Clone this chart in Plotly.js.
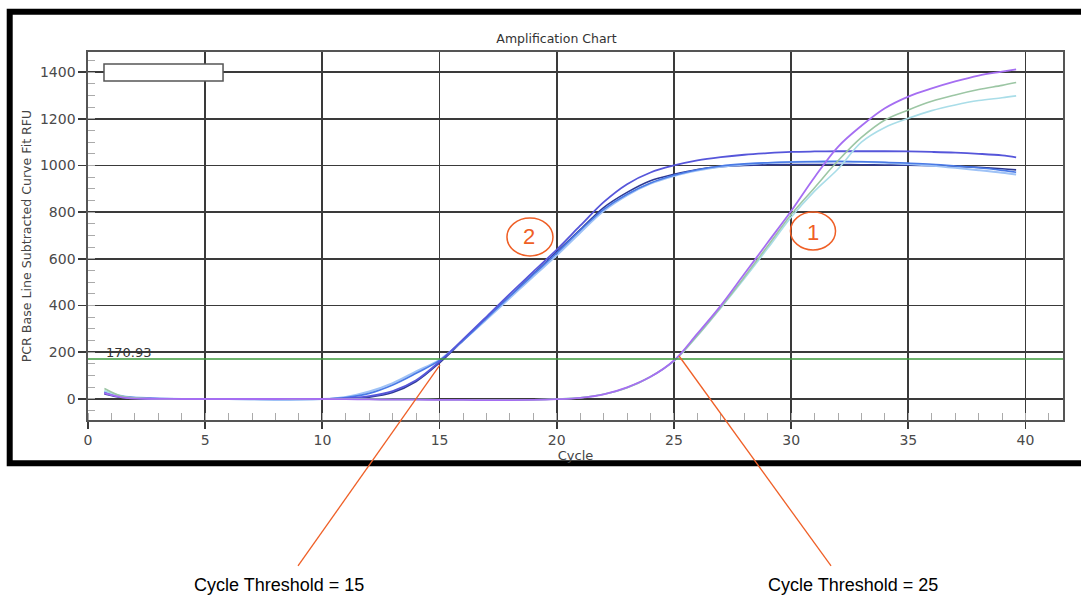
<!DOCTYPE html>
<html>
<head>
<meta charset="utf-8">
<script src="https://cdn.plot.ly/plotly-3.0.1.min.js"></script>
<style>
html,body{margin:0;padding:0;background:#fff;}
#chart{width:1081px;height:597px;}
</style>
</head>
<body>
<div id="chart"></div>
<script>
// ---- data ----
var cycles = [0.7, 1.5, 2.5, 4, 6, 8, 10, 11, 12, 13, 14, 15, 16, 17, 18, 19, 20, 21, 22, 23, 24, 25, 26, 27, 28, 29, 30, 31, 32, 33, 34, 35, 36, 37, 38, 39, 39.6];

// Sample 2 (early group)
var s2Navy   = [22, 6, 2, 0, 0, 0, 0, 1, 8, 28, 75, 155, 250, 345, 440, 535, 630, 725, 820, 885, 935, 962, 983, 995, 1000, 1003, 1004, 1004, 1004, 1003, 1002, 1001, 999, 996, 992, 986, 981];
var s2Light  = [32, 12, 4, 0, 0, -4, 0, 9, 32, 68, 118, 168, 250, 340, 432, 525, 615, 712, 805, 872, 922, 955, 978, 994, 1004, 1011, 1015, 1017, 1018, 1016, 1012, 1006, 999, 990, 980, 969, 961];
var s2Blue   = [30, 10, 3, 0, 0, 0, 0, 6, 24, 60, 110, 165, 250, 345, 440, 533, 625, 722, 812, 877, 925, 958, 982, 998, 1007, 1012, 1015, 1016, 1017, 1016, 1014, 1010, 1005, 998, 990, 979, 971];
var s2Dark   = [25, 8, 2, 0, 0, 0, 0, 2, 12, 34, 80, 160, 255, 352, 450, 545, 640, 742, 843, 920, 970, 1000, 1022, 1036, 1046, 1053, 1058, 1060, 1061, 1061, 1061, 1060, 1058, 1055, 1050, 1043, 1035];

// Sample 1 (late group)
var s1Cyan   = [35, 9, 2, 0, 0, 0, 0, 0, -1, -2, -2, -3, -3, -4, -4, -3, 0, 5, 20, 48, 95, 162, 270, 390, 515, 645, 778, 890, 985, 1100, 1163, 1202, 1235, 1259, 1278, 1290, 1298];
var s1Green  = [45, 10, 2, 0, 0, 0, 0, 0, -1, -2, -2, -3, -3, -4, -4, -3, 0, 5, 20, 48, 95, 163, 272, 393, 522, 655, 790, 905, 1020, 1120, 1195, 1238, 1275, 1302, 1325, 1343, 1355];
var s1Purple = [25, 6, 1, 0, 0, 0, 0, -1, -2, -3, -3, -4, -4, -5, -5, -4, -1, 5, 20, 50, 95, 165, 280, 400, 535, 670, 805, 950, 1080, 1170, 1245, 1295, 1330, 1360, 1385, 1402, 1412];

var thresholdValue = 170.93;
var thresholdLabel = "170.93";
var xTickVals = [0, 5, 10, 15, 20, 25, 30, 35, 40];
var yTickVals = [0, 200, 400, 600, 800, 1000, 1200, 1400];
var ctLabels = ["Cycle Threshold = 15", "Cycle Threshold = 25"];
var sampleLabels = ["2", "1"];

// ---- traces ----
function curve(y, color, width) {
  return {
    x: cycles, y: y, type: 'scatter', mode: 'lines',
    line: {color: color, width: width, shape: 'spline', smoothing: 1},
    hoverinfo: 'skip', showlegend: false
  };
}
var data = [
  curve(s2Navy,  '#2e3a94', 1.6),
  curve(s2Light, '#9ec2f6', 2.0),
  curve(s2Blue,  '#4a7ae6', 1.6),
  curve(s2Dark,  '#5656da', 1.8),
  curve(s1Cyan,  '#a9dde8', 1.6),
  curve(s1Green, '#9cc6a4', 1.6),
  curve(s1Purple,'#a56ef2', 1.8)
];

var orange = '#ef5f26';
var fontMain = 'DejaVu Sans, Verdana, sans-serif';

var layout = {
  width: 1081, height: 597,
  margin: {l: 88, r: 18, t: 52, b: 177},
  paper_bgcolor: '#ffffff', plot_bgcolor: '#ffffff',
  showlegend: false,
  title: {text: 'Amplification Chart', font: {family: fontMain, size: 12.5, color: '#333'},
          x: 0.5148, xref: 'container', xanchor: 'center', y: 0.935, yref: 'container', yanchor: 'middle'},
  xaxis: {
    range: [0, 41.6], tickvals: xTickVals, ticks: 'outside', ticklen: 7, tickcolor: '#3a3a3a', tickwidth: 1.8,
    showgrid: true, gridcolor: '#3a3a3a', gridwidth: 1.8, zeroline: false,
    showline: true, linecolor: '#555', linewidth: 1.6, mirror: true,
    tickfont: {family: fontMain, size: 14, color: '#4a4a4a'},
    minor: {dtick: 1, ticks: 'inside', ticklen: 7, tickcolor: '#aaa', tickwidth: 1, showgrid: false},
    title: {text: 'Cycle', font: {family: fontMain, size: 13, color: '#444'}, standoff: 2},
    fixedrange: true
  },
  yaxis: {
    range: [-90, 1486], tickvals: yTickVals, ticks: 'outside', ticklen: 8, tickcolor: '#3a3a3a', tickwidth: 1.8,
    showgrid: true, gridcolor: '#3a3a3a', gridwidth: 1.8, zeroline: false,
    showline: true, linecolor: '#555', linewidth: 1.6, mirror: true,
    tickfont: {family: fontMain, size: 14, color: '#4a4a4a'},
    minor: {dtick: 50, ticks: 'inside', ticklen: 7, tickcolor: '#aaa', tickwidth: 1, showgrid: false},
    title: {text: 'PCR Base Line Subtracted Curve Fit RFU', font: {family: fontMain, size: 12.6, color: '#444'}, standoff: 5},
    fixedrange: true
  },
  shapes: [
    // threshold line
    {type: 'line', xref: 'paper', yref: 'y', x0: 0, x1: 1, y0: thresholdValue, y1: thresholdValue,
     line: {color: '#3c9a3c', width: 1.5}, layer: 'above'},
    // empty legend box
    {type: 'rect', xref: 'paper', yref: 'paper', x0: 0.0164, x1: 0.1385, y0: 0.9212, y1: 0.9674,
     fillcolor: '#ffffff', line: {color: '#555', width: 1.5}, layer: 'above'},
    // outer thick frame
    {type: 'rect', xref: 'paper', yref: 'paper', x0: -0.0803, x1: 1.03, y0: -0.1177, y1: 1.1095,
     line: {color: '#000', width: 6}, fillcolor: 'rgba(0,0,0,0)', layer: 'above'},
    // sample circles
    {type: 'circle', xref: 'paper', yref: 'paper', x0: 0.4297, x1: 0.4769, y0: 0.4457, y1: 0.5489,
     line: {color: orange, width: 1.5}, layer: 'above'},
    {type: 'circle', xref: 'paper', yref: 'paper', x0: 0.7205, x1: 0.7667, y0: 0.4620, y1: 0.5652,
     line: {color: orange, width: 1.5}, layer: 'above'},
    // pointer lines
    {type: 'line', xref: 'paper', yref: 'paper', x0: 0.3610, y0: 0.1495, x1: 0.2154, y1: -0.3967,
     line: {color: orange, width: 1.3}, layer: 'above'},
    {type: 'line', xref: 'paper', yref: 'paper', x0: 0.6062, y0: 0.1739, x1: 0.7621, y1: -0.3967,
     line: {color: orange, width: 1.3}, layer: 'above'}
  ],
  annotations: [
    {text: thresholdLabel, xref: 'x', yref: 'y', x: 0.68, y: 201, xanchor: 'left', yanchor: 'middle',
     showarrow: false, font: {family: fontMain, size: 13, color: '#333'}},
    {text: sampleLabels[0], xref: 'paper', yref: 'paper', x: 0.4523, y: 0.4973, xanchor: 'center', yanchor: 'middle',
     showarrow: false, font: {family: 'Liberation Sans, Arial, sans-serif', size: 22, color: orange}},
    {text: sampleLabels[1], xref: 'paper', yref: 'paper', x: 0.7436, y: 0.5082, xanchor: 'center', yanchor: 'middle',
     showarrow: false, font: {family: 'Liberation Sans, Arial, sans-serif', size: 22, color: orange}},
    {text: ctLabels[0], xref: 'paper', yref: 'paper', x: 0.1954, y: -0.4484, xanchor: 'center', yanchor: 'middle',
     showarrow: false, font: {family: 'Liberation Sans, Arial, sans-serif', size: 18, color: '#000'}},
    {text: ctLabels[1], xref: 'paper', yref: 'paper', x: 0.7846, y: -0.4484, xanchor: 'center', yanchor: 'middle',
     showarrow: false, font: {family: 'Liberation Sans, Arial, sans-serif', size: 18, color: '#000'}}
  ]
};

Plotly.newPlot('chart', data, layout, {displayModeBar: false, staticPlot: true});
</script>
</body>
</html>
